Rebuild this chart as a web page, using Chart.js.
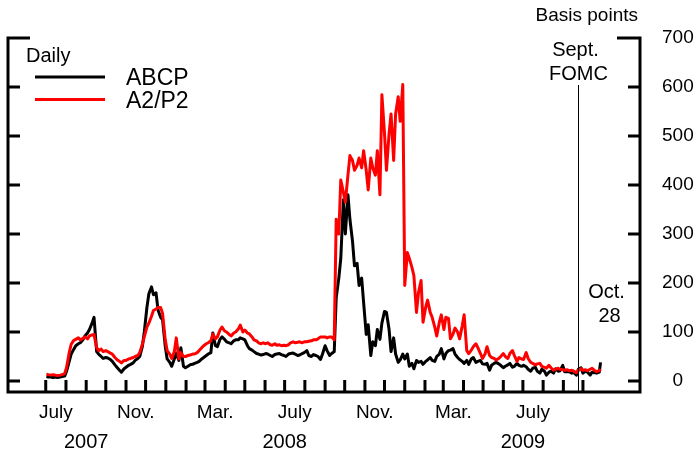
<!DOCTYPE html>
<html>
<head>
<meta charset="utf-8">
<script src="https://cdn.jsdelivr.net/npm/chart.js@4.4.1/dist/chart.umd.min.js"></script>
<style>
  html, body { margin: 0; padding: 0; background: #fff; }
  canvas { display: block; }
</style>
</head>
<body>
<canvas id="chart" width="694" height="453"></canvas>
<script>
const FONT = "'Liberation Sans', Arial, Helvetica, sans-serif";

const dates = [
  '2007-07-02','2007-07-05','2007-07-09','2007-07-12','2007-07-16','2007-07-19','2007-07-23','2007-07-26','2007-07-30',
  '2007-08-02','2007-08-06','2007-08-09','2007-08-13','2007-08-16','2007-08-20','2007-08-23','2007-08-27','2007-08-30',
  '2007-09-03','2007-09-06','2007-09-10','2007-09-13','2007-09-17','2007-09-20','2007-09-24','2007-09-27',
  '2007-10-01','2007-10-04','2007-10-08','2007-10-11','2007-10-15','2007-10-18','2007-10-22','2007-10-25','2007-10-29',
  '2007-11-01','2007-11-05','2007-11-08','2007-11-12','2007-11-15','2007-11-19','2007-11-22','2007-11-26','2007-11-29',
  '2007-12-03','2007-12-06','2007-12-10','2007-12-13','2007-12-17','2007-12-20','2007-12-24','2007-12-27','2007-12-31',
  '2008-01-03','2008-01-07','2008-01-10','2008-01-14','2008-01-17','2008-01-21','2008-01-24','2008-01-28','2008-01-31',
  '2008-02-04','2008-02-07','2008-02-11','2008-02-14','2008-02-18','2008-02-21','2008-02-25','2008-02-28',
  '2008-03-03','2008-03-06','2008-03-10','2008-03-13','2008-03-17','2008-03-20','2008-03-24','2008-03-27','2008-03-31',
  '2008-04-03','2008-04-07','2008-04-10','2008-04-14','2008-04-17','2008-04-21','2008-04-24','2008-04-28',
  '2008-05-01','2008-05-05','2008-05-08','2008-05-12','2008-05-15','2008-05-19','2008-05-22','2008-05-26','2008-05-29',
  '2008-06-02','2008-06-05','2008-06-09','2008-06-12','2008-06-16','2008-06-19','2008-06-23','2008-06-26','2008-06-30',
  '2008-07-03','2008-07-07','2008-07-10','2008-07-14','2008-07-17','2008-07-21','2008-07-24','2008-07-28','2008-07-31',
  '2008-08-04','2008-08-07','2008-08-11','2008-08-14','2008-08-18','2008-08-21','2008-08-25','2008-08-28',
  '2008-09-01','2008-09-04','2008-09-08','2008-09-11','2008-09-15','2008-09-18','2008-09-22','2008-09-25','2008-09-29',
  '2008-10-02','2008-10-06','2008-10-09','2008-10-13','2008-10-16','2008-10-20','2008-10-23','2008-10-27','2008-10-30',
  '2008-11-03','2008-11-06','2008-11-10','2008-11-13','2008-11-17','2008-11-20','2008-11-24','2008-11-27',
  '2008-12-01','2008-12-04','2008-12-08','2008-12-11','2008-12-15','2008-12-18','2008-12-22','2008-12-25','2008-12-29',
  '2009-01-01','2009-01-05','2009-01-08','2009-01-12','2009-01-15','2009-01-19','2009-01-22','2009-01-26','2009-01-29',
  '2009-02-02','2009-02-05','2009-02-09','2009-02-12','2009-02-16','2009-02-19','2009-02-23','2009-02-26',
  '2009-03-02','2009-03-05','2009-03-09','2009-03-12','2009-03-16','2009-03-19','2009-03-23','2009-03-26','2009-03-30',
  '2009-04-02','2009-04-06','2009-04-09','2009-04-13','2009-04-16','2009-04-20','2009-04-23','2009-04-27','2009-04-30',
  '2009-05-04','2009-05-07','2009-05-11','2009-05-14','2009-05-18','2009-05-21','2009-05-25','2009-05-28',
  '2009-06-01','2009-06-04','2009-06-08','2009-06-11','2009-06-15','2009-06-18','2009-06-22','2009-06-25','2009-06-29',
  '2009-07-02','2009-07-06','2009-07-09','2009-07-13','2009-07-16','2009-07-20','2009-07-23','2009-07-27','2009-07-30',
  '2009-08-03','2009-08-06','2009-08-10','2009-08-13','2009-08-17','2009-08-20','2009-08-24','2009-08-27','2009-08-31',
  '2009-09-03','2009-09-07','2009-09-10','2009-09-14','2009-09-17','2009-09-21','2009-09-24','2009-09-28',
  '2009-10-01','2009-10-05','2009-10-08','2009-10-12','2009-10-15','2009-10-19','2009-10-22','2009-10-26','2009-10-28'
];

// ABCP spread, basis points
const abcp = [
  9,8,8,7,8,7,8,9,10,
  20,40,55,65,72,76,78,84,92,
  98,105,118,130,60,55,50,46,
  48,47,44,40,33,28,22,18,25,
  28,32,34,37,42,46,50,70,100,
  150,178,192,176,180,145,130,125,72,
  45,38,30,45,57,42,68,30,27,
  30,33,34,36,38,40,45,48,
  52,55,58,98,72,70,85,90,85,
  80,78,76,82,84,84,88,86,
  84,72,66,63,60,56,55,53,54,
  56,55,52,50,54,55,56,54,52,
  50,55,56,57,55,52,53,56,58,
  62,52,50,54,52,50,44,55,
  72,62,52,56,60,170,210,250,370,
  300,380,330,285,235,240,195,210,160,
  95,115,52,80,72,105,85,118,
  142,140,105,60,88,55,38,43,55,
  45,55,30,36,25,42,38,40,34,
  40,43,48,42,40,50,55,66,
  45,56,62,63,66,55,48,44,40,
  36,42,34,45,48,38,40,42,35,
  34,36,22,32,36,38,35,32,
  27,30,33,36,28,30,36,32,30,
  32,29,24,20,26,28,20,16,24,
  20,12,18,20,16,25,20,21,32,
  19,19,19,16,17,12,24,27,
  16,20,18,12,18,17,16,18,38
];

// A2/P2 spread, basis points
const a2p2 = [
  14,13,12,13,12,11,12,13,15,
  28,58,75,83,85,88,84,87,90,
  86,92,94,95,68,62,65,60,
  62,60,57,55,48,44,40,37,42,
  42,45,46,48,50,52,58,75,90,
  110,118,132,144,147,150,150,138,85,
  62,55,46,60,88,45,58,50,50,
  52,53,55,55,58,62,68,72,
  76,78,82,96,86,90,104,110,102,
  100,95,92,98,100,106,114,100,
  104,98,96,90,84,82,78,76,78,
  76,78,74,73,76,73,74,72,73,
  72,74,78,80,78,79,80,78,80,
  80,81,82,84,84,86,90,90,
  90,88,90,90,84,330,300,410,385,
  365,420,460,450,430,440,455,435,470,
  430,390,455,435,420,470,380,584,
  505,430,505,545,450,545,580,530,605,
  195,262,250,232,215,140,180,205,120,
  150,165,140,130,110,92,120,135,
  105,130,128,86,96,108,100,86,112,
  135,62,56,63,70,76,68,56,46,
  55,70,52,48,46,43,46,50,
  56,50,46,56,62,52,40,48,45,
  44,58,46,38,36,33,35,36,30,
  28,26,32,27,22,24,26,24,23,
  22,23,21,22,20,17,22,25,
  22,23,21,24,26,21,19,21,24
];

const yTicks = [0, 100, 200, 300, 400, 500, 600, 700];
const monthLabelMonths = ['2007-07', '2007-11', '2008-03', '2008-07', '2008-11', '2009-03', '2009-07'];
const monthLabelNames = ['July', 'Nov.', 'Mar.', 'July', 'Nov.', 'Mar.', 'July'];
const yearLabelDates = ['2007-09-01', '2008-07-01', '2009-07-01'];
const yearLabels = ['2007', '2008', '2009'];
const firstTickMonth = '2007-07';
const lastTickMonth = '2009-10';
const fomcDate = '2009-09-23';

// axis range (days from 1 July 2007) and value range
const xMin = -57.8, xMax = 910.4;
const yMin = -22.45, yMax = 700;

function dayNum(s) {
    const [y, m, d] = s.split('-').map(Number);
    return (Date.UTC(y, m - 1, d || 1) - Date.UTC(2007, 6, 1)) / 864e5;
}

function nextMonth(s) {
    let [y, m] = s.split('-').map(Number);
    m++;
    if (m > 12) { m = 1; y++; }
    return `${y}-${String(m).padStart(2, '0')}`;
}

function midMonth(s) {
    return (dayNum(s) + dayNum(nextMonth(s))) / 2;
}

function monthStarts() {
    const out = [];
    let m = firstTickMonth;
    while (true) {
        out.push(dayNum(m));
        if (m === lastTickMonth) break;
        m = nextMonth(m);
    }
    return out;
}

const axisFont = { family: FONT, size: 19 };

// Frame, tick marks and annotations
const framePlugin = {
    id: 'frame',
    afterDatasetsDraw(chart) {
        const { ctx, chartArea: a, scales } = chart;
        const x = scales.x, y = scales.y;
        ctx.save();
        ctx.strokeStyle = '#000';
        ctx.lineWidth = 3;
        ctx.lineJoin = 'miter';
        ctx.lineCap = 'butt';

        const top = y.getPixelForValue(yMax);
        ctx.beginPath();
        ctx.moveTo(a.left + 22, top);
        ctx.lineTo(a.left, top);
        ctx.lineTo(a.left, a.bottom);
        ctx.lineTo(a.right, a.bottom);
        ctx.lineTo(a.right, top);
        ctx.lineTo(a.right - 23, top);
        ctx.stroke();

        ctx.beginPath();
        yTicks.forEach(v => {
            if (v === yMax) return;
            const py = y.getPixelForValue(v);
            ctx.moveTo(a.left, py); ctx.lineTo(a.left + 12, py);
            ctx.moveTo(a.right, py); ctx.lineTo(a.right - 12, py);
        });
        monthStarts().forEach(d => {
            const px = x.getPixelForValue(d);
            ctx.moveTo(px, a.bottom); ctx.lineTo(px, a.bottom - 12);
        });
        ctx.stroke();

        // Sept. FOMC marker
        const fx = Math.round(x.getPixelForValue(dayNum(fomcDate))) + 0.5;
        ctx.lineWidth = 1;
        ctx.beginPath();
        ctx.moveTo(fx, 85);
        ctx.lineTo(fx, a.bottom);
        ctx.stroke();

        // text
        ctx.fillStyle = '#000';
        ctx.textBaseline = 'alphabetic';
        ctx.font = `20px ${FONT}`;
        ctx.textAlign = 'center';
        ctx.fillText('Sept.', fx - 3, 56);
        ctx.fillText('FOMC', fx, 80);
        ctx.fillText('Oct.', 606.5, 298);
        ctx.fillText('28', 609.5, 322);

        ctx.font = `19px ${FONT}`;
        ctx.textAlign = 'right';
        ctx.fillText('Basis points', 638, 21);

        // legend
        ctx.textAlign = 'left';
        ctx.font = `20px ${FONT}`;
        ctx.fillText('Daily', 26, 62);
        ctx.font = `23px ${FONT}`;
        ctx.fillText('ABCP', 126, 85);
        ctx.fillText('A2/P2', 126, 108);
        ctx.lineWidth = 3;
        ctx.strokeStyle = '#000';
        ctx.beginPath(); ctx.moveTo(35, 77); ctx.lineTo(105, 77); ctx.stroke();
        ctx.strokeStyle = '#ff0000';
        ctx.beginPath(); ctx.moveTo(35, 99.5); ctx.lineTo(105, 99.5); ctx.stroke();
        ctx.restore();
    }
};

const series = (vals) => dates.map((d, i) => ({ x: dayNum(d), y: vals[i] }));

new Chart(document.getElementById('chart').getContext('2d'), {
    type: 'line',
    data: {
        datasets: [
            { label: 'ABCP', data: series(abcp), borderColor: '#000000', order: 2 },
            { label: 'A2/P2', data: series(a2p2), borderColor: '#ff0000', order: 1 }
        ]
    },
    options: {
        responsive: false,
        animation: false,
        devicePixelRatio: 1,
        layout: { padding: { left: 8, right: 0, top: 38, bottom: 0 } },
        elements: {
            line: { borderWidth: 3, tension: 0, borderJoinStyle: 'round', fill: false },
            point: { radius: 0, hoverRadius: 0 }
        },
        plugins: { legend: { display: false }, tooltip: { enabled: false } },
        scales: {
            x: {
                type: 'linear', position: 'bottom', min: xMin, max: xMax, weight: 1,
                grid: { display: false, drawTicks: false }, border: { display: false },
                afterBuildTicks: s => { s.ticks = monthLabelMonths.map(m => ({ value: midMonth(m) })); },
                ticks: {
                    autoSkip: false, maxRotation: 0, minRotation: 0, padding: 9, color: '#000', font: axisFont,
                    callback: (v, i) => monthLabelNames[i]
                },
                afterFit: s => { s.height = 30; }
            },
            xYear: {
                type: 'linear', axis: 'x', position: 'bottom', min: xMin, max: xMax, weight: 2,
                grid: { display: false, drawTicks: false }, border: { display: false },
                afterBuildTicks: s => { s.ticks = yearLabelDates.map(d => ({ value: dayNum(d) })); },
                ticks: {
                    autoSkip: false, maxRotation: 0, minRotation: 0, padding: 8, color: '#000',
                    font: { family: FONT, size: 20 },
                    callback: (v, i) => yearLabels[i]
                },
                afterFit: s => { s.height = 31; }
            },
            y: {
                position: 'right', min: yMin, max: yMax,
                grid: { display: false, drawTicks: false }, border: { display: false },
                afterBuildTicks: s => { s.ticks = yTicks.map(v => ({ value: v })); },
                ticks: { crossAlign: 'center', padding: 22, color: '#000', font: axisFont },
                afterFit: s => { s.width = 54; }
            }
        }
    },
    plugins: [framePlugin]
});
</script>
</body>
</html>
